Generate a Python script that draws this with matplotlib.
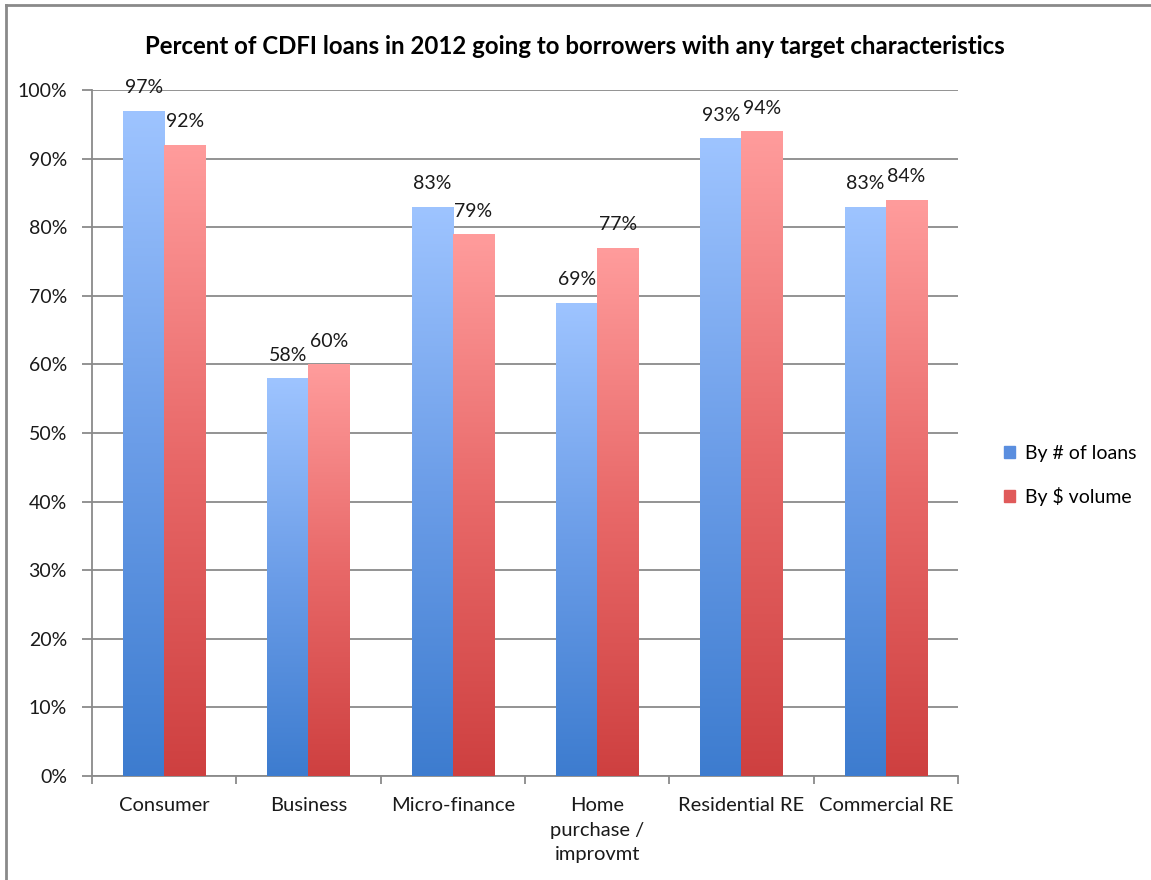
import numpy as np
import matplotlib
matplotlib.use("Agg")
import matplotlib.pyplot as plt
import matplotlib.patches as mpatches
from matplotlib.colors import LinearSegmentedColormap
from matplotlib.lines import Line2D

plt.rcParams['font.family'] = ['Lato', 'DejaVu Sans']

categories = ['Consumer', 'Business', 'Micro-finance', 'Home\npurchase /\nimprovmt',
              'Residential RE', 'Commercial RE']
by_loans = [97, 58, 83, 69, 93, 83]
by_volume = [92, 60, 79, 77, 94, 84]
series_names = ['By # of loans', 'By $ volume']

# gradient colours: bottom -> top of each bar
blue_cmap = LinearSegmentedColormap.from_list('blue', ['#3D7CCF', '#6B9DE8', '#9EC4FF'])
red_cmap = LinearSegmentedColormap.from_list('red', ['#CE4040', '#E86868', '#FF9C9C'])

fig = plt.figure(figsize=(11.51, 8.80), dpi=100)
ax = fig.add_axes([0.0799, 0.1182, 0.7524, 0.7795])

x = np.arange(len(categories))
w = 0.285
bars_b = ax.bar(x - w / 2, by_loans, w, color='none', zorder=3)
bars_r = ax.bar(x + w / 2, by_volume, w, color='none', zorder=3)

grad = np.linspace(0, 1, 256).reshape(-1, 1)
for bars, cmap in [(bars_b, blue_cmap), (bars_r, red_cmap)]:
    for p in bars:
        x0, y0 = p.get_x(), p.get_y()
        x1, y1 = x0 + p.get_width(), y0 + p.get_height()
        im = ax.imshow(grad, cmap=cmap, origin='lower', aspect='auto',
                       extent=[x0, x1, y0, y1], zorder=3)
        im.set_clip_path(p)

# data labels
for bars, vals in [(bars_b, by_loans), (bars_r, by_volume)]:
    for p, v in zip(bars, vals):
        ax.annotate(f'{v}%', (p.get_x() + p.get_width() / 2, v),
                    xytext=(0, 23), textcoords='offset pixels',
                    ha='center', va='center', fontsize=14, color='#1a1a1a')

ax.set_xlim(-0.5, len(categories) - 0.5)
ax.set_ylim(0, 100)
ax.set_yticks(np.arange(0, 101, 10))
ax.set_yticklabels([f'{t}%' for t in range(0, 101, 10)], fontsize=14, color='#1a1a1a')
ax.yaxis.grid(True, color='#8a8a8a', linewidth=1.3, zorder=0)
ax.set_axisbelow(True)

ax.set_xticks(x)
ax.set_xticklabels(categories, fontsize=14.5, color='#1a1a1a', linespacing=1.56, va='top')
ax.set_xticks(np.arange(-0.5, len(categories)), minor=True)
ax.tick_params(axis='x', which='major', length=0, pad=15)
ax.tick_params(axis='x', which='minor', length=6, width=1.3, color='#8a8a8a')
ax.tick_params(axis='y', length=7, width=1.3, color='#8a8a8a', pad=11)

for s in ['top', 'right']:
    ax.spines[s].set_visible(False)
for s in ['left', 'bottom']:
    ax.spines[s].set_color('#8a8a8a')
    ax.spines[s].set_linewidth(1.3)

ax.set_title('Percent of CDFI loans in 2012 going to borrowers with any target characteristics',
             fontsize=17.3, fontweight='bold', pad=26, x=0.558)

handles = [mpatches.Patch(color='#5A8EDF', label=series_names[0]),
           mpatches.Patch(color='#E05A5A', label=series_names[1])]
fig.legend(handles=handles, loc='center left', bbox_to_anchor=(0.857, 0.460),
           frameon=False, fontsize=14, handlelength=0.55, handleheight=0.55,
           handletextpad=0.55, labelspacing=1.3)

# chart frame (top and left edges visible)
fig.add_artist(Line2D([0.005, 1.0], [0.9943, 0.9943], transform=fig.transFigure,
                      color='#8a8a8a', linewidth=2))
fig.add_artist(Line2D([0.0052, 0.0052], [0.0, 0.9943], transform=fig.transFigure,
                      color='#8a8a8a', linewidth=2))

fig.savefig('out.png', dpi=100)
